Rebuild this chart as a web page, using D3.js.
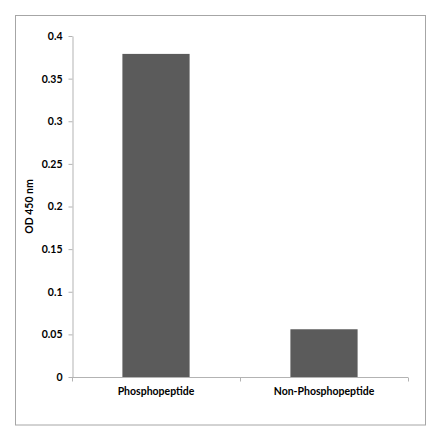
<!DOCTYPE html>
<html><head><meta charset="utf-8">
<script src="https://cdn.jsdelivr.net/npm/d3@7"></script>
<style>body{margin:0;background:#fff}svg{display:block}text{font-family:Lato,"Open Sans",sans-serif;font-weight:bold;fill:#000}</style>
</head><body>
<script>
const categories = ["Phosphopeptide", "Non-Phosphopeptide"];
const values = [0.379, 0.056];
const yTicks = [0, 0.05, 0.1, 0.15, 0.2, 0.25, 0.3, 0.35, 0.4];
const yTickLabels = ["0", "0.05", "0.1", "0.15", "0.2", "0.25", "0.3", "0.35", "0.4"];
const yTitle = "OD 450 nm";

const W = 440, H = 441;
const svg = d3.select("body").append("svg").attr("width", W).attr("height", H);
svg.append("rect").attr("x", 15.5).attr("y", 15.5).attr("width", 410).attr("height", 409.5)
  .attr("fill", "#fff").attr("stroke", "#a6a6a6").attr("stroke-width", 1);

const pLeft = 72, pRight = 408, pTop = 36, pBottom = 377;
const x = d3.scaleBand().domain(categories).range([pLeft, pRight]).paddingInner(0.6).paddingOuter(0.3);
const y = d3.scaleLinear().domain([0, 0.4]).range([pBottom, pTop]);

svg.selectAll(".bar").data(values).join("rect").attr("class", "bar")
  .attr("x", (d, i) => x(categories[i])).attr("width", x.bandwidth())
  .attr("y", d => y(d)).attr("height", d => y(0) - y(d)).attr("fill", "#5b5b5b");

const ya = svg.append("g").attr("transform", `translate(${pLeft + 0.5},0)`)
  .call(d3.axisLeft(y).tickValues(yTicks).tickFormat((d, i) => yTickLabels[i]).tickSizeInner(4).tickSizeOuter(0).tickPadding(6));
ya.select(".domain").attr("stroke", "#b3b3b3");
ya.selectAll(".tick line").attr("stroke", "#b3b3b3");
ya.selectAll(".tick text").style("font-size", "10.5px").attr("fill", "#000");

const xa = svg.append("g").attr("transform", `translate(0,${pBottom + 0.5})`)
  .call(d3.axisBottom(x).tickSize(0).tickPadding(10));
xa.select(".domain").attr("stroke", "#b3b3b3").attr("d", `M${pLeft},0H${pRight}`);
xa.selectAll(".tick text").style("font-size", "10.5px").attr("fill", "#000");
const bounds = [pLeft, (pLeft + pRight) / 2, pRight];
xa.selectAll(".bnd").data(bounds).join("line").attr("class", "bnd")
  .attr("x1", d => d + 0.5).attr("x2", d => d + 0.5).attr("y1", 0).attr("y2", 4).attr("stroke", "#b3b3b3");

svg.append("text").attr("transform", `translate(33,${(pTop + pBottom) / 2}) rotate(-90)`)
  .attr("text-anchor", "middle").style("font-size", "10.5px").text(yTitle);
</script>
</body></html>
